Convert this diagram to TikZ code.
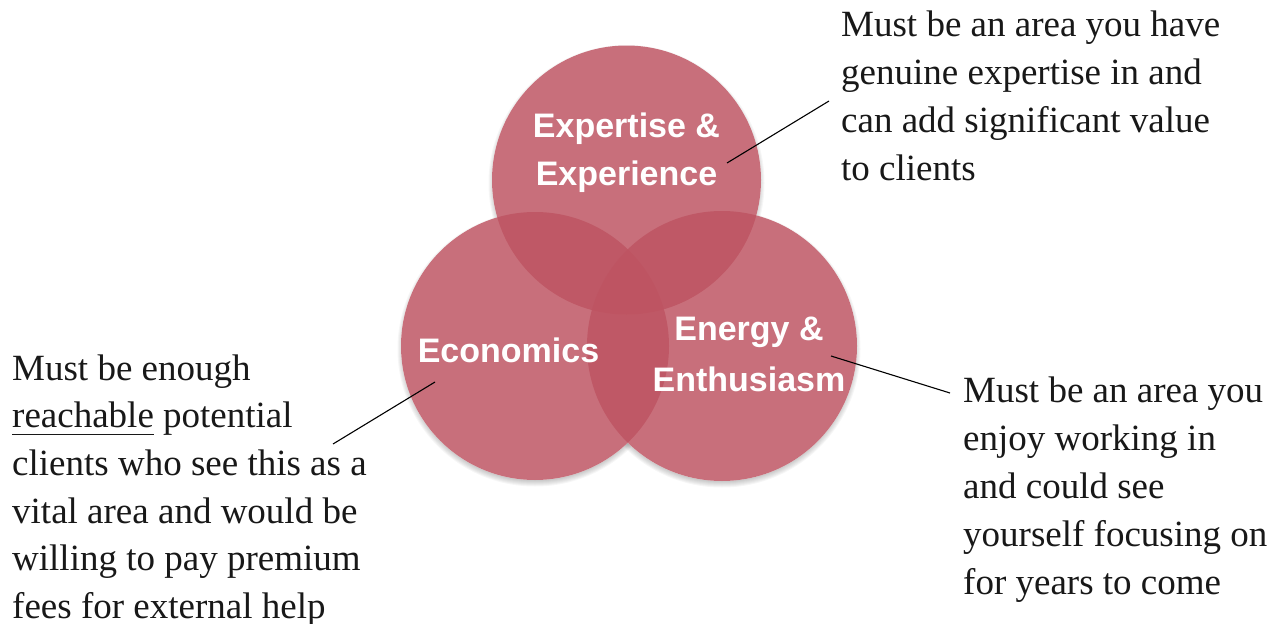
\documentclass[tikz,border=0pt]{standalone}
\usepackage{fontspec}
\setmainfont{Liberation Serif}
\newfontfamily\labelfont{Liberation Sans}
\definecolor{vennrose}{RGB}{190,84,98}
\definecolor{inktext}{RGB}{24,24,24}
% underline drawn a little below the baseline
\newcommand\ulword[1]{\setbox0\hbox{#1}\rlap{\rule[-7.5pt]{\wd0}{1.3pt}}\box0\relax}
\begin{document}
\begin{tikzpicture}[x=1pt,y=-1pt,
  vennc/.style={circle, inner sep=0pt, fill=vennrose, fill opacity=0.84, draw=none},
  circlabel/.style={anchor=base, inner sep=0pt, text=white, font=\labelfont\bfseries\fontsize{34}{48}\selectfont},
  note/.style={anchor=base west, inner sep=0pt, text=inktext, font=\fontsize{37}{48}\selectfont},
  leader/.style={draw=black, line width=1.1pt},
  softshadow/.style={fill=black, opacity=0.035}]
\useasboundingbox (0,0) rectangle (1283,624);

% circle centres
\coordinate (cExp) at (626.5,180);
\coordinate (cEco) at (535,346);
\coordinate (cEne) at (722,346);

% soft shadows under the circles
\foreach \c/\r in {cExp/134.5, cEco/134, cEne/135}{
  \foreach \k in {0,...,6}{
    \fill[softshadow] ([yshift=-3pt]\c) circle[radius=\r+3.5-\k];
  }
}
% opaque white base so the shadows do not show through
\foreach \c/\r in {cExp/134.5, cEco/134, cEne/135}{
  \fill[white] (\c) circle[radius=\r];
}

% the three overlapping circles
\node[vennc, minimum size=269pt] (expC) at (cExp) {};
\node[vennc, minimum size=268pt] (ecoC) at (cEco) {};
\node[vennc, minimum size=270pt] (eneC) at (cEne) {};

% circle labels
\node[circlabel] (expL) at (626.5,137) {\vtop{\baselineskip=48pt
  \hbox to 0pt{\hss Expertise \&\hss}\hbox to 0pt{\hss Experience\hss}}};
\node[circlabel] (ecoL) at (508.5,362) {Economics};
\node[circlabel] (eneL) at (749,340) {\vtop{\baselineskip=51pt
  \hbox to 0pt{\hss Energy \&\hss}\hbox to 0pt{\hss Enthusiasm\hss}}};

% notes
\node[note] (expN) at (841,36) {\vtop{\baselineskip=48pt
  \hbox{Must be an area you have}
  \hbox{genuine expertise in and}
  \hbox{can add significant value}
  \hbox{to clients}}};
\node[note] (eneN) at (963,402) {\vtop{\baselineskip=48pt
  \hbox{Must be an area you}
  \hbox{enjoy working in}
  \hbox{and could see}
  \hbox{yourself focusing on}
  \hbox{for years to come}}};
\node[note] (ecoN) at (12,380) {\vtop{\baselineskip=47.7pt
  \hbox{Must be enough}
  \hbox{\ulword{reachable} potential}
  \hbox{clients who see this as a}
  \hbox{vital area and would be}
  \hbox{willing to pay premium}
  \hbox{fees for external help}}};

% leader lines
\coordinate (expTip) at (727,163);
\coordinate (expEnd) at (829,101);
\coordinate (eneTip) at (831,356);
\coordinate (eneEnd) at (950,393);
\coordinate (ecoTip) at (435,382);
\coordinate (ecoEnd) at (333,444);
\draw[leader] (expTip) -- (expEnd);
\draw[leader] (eneTip) -- (eneEnd);
\draw[leader] (ecoTip) -- (ecoEnd);
\end{tikzpicture}
\end{document}
